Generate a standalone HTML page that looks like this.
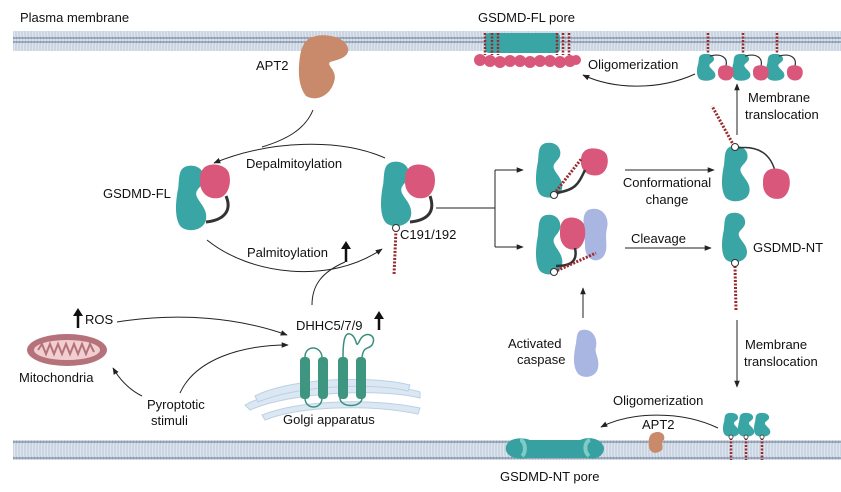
<!DOCTYPE html>
<html><head><meta charset="utf-8"><style>
html,body{margin:0;padding:0;background:#fff}
svg{display:block}
text{font-family:"Liberation Sans",Arial,sans-serif;font-size:13px;fill:#111}
</style></head><body>
<svg width="841" height="492" viewBox="0 0 841 492" xmlns="http://www.w3.org/2000/svg">
<defs>
<pattern id="mem" width="3" height="20" patternUnits="userSpaceOnUse">
<rect width="3" height="20" fill="#dde5ee"/>
<circle cx="1.5" cy="2" r="1.4" fill="#8e9db2"/>
<circle cx="1.5" cy="18" r="1.4" fill="#8e9db2"/>
<line x1="1" y1="4" x2="1" y2="16" stroke="#b3c0d0" stroke-width="0.8"/>
</pattern>
<marker id="ah" viewBox="0 0 10 10" refX="9" refY="5" markerWidth="7" markerHeight="7" orient="auto-start-reverse"><path d="M0,1 L10,5 L0,9 Z" fill="#222"/></marker>
<path id="nt" d="M10,0 C20,-2 26,6 24,14 C22,20 16,22 18,28 C20,34 28,40 26,50 C24,60 10,62 4,56 C-2,48 0,30 2,20 C3,10 2,2 10,0Z"/>
<path id="ct" d="M4,4 C10,-2 26,0 30,8 C34,18 30,32 20,34 C8,36 0,28 0,18 C0,12 0,8 4,4Z"/>
<path id="blob" d="M8,0 C18,-2 24,8 22,18 C20,24 26,30 24,40 C22,50 10,52 4,46 C-2,38 0,24 2,14 C3,6 3,1 8,0Z"/>
</defs>

<rect x="13" y="31" width="828" height="20" fill="url(#mem)"/>
<rect x="13" y="440" width="828" height="20" fill="url(#mem)"/>

<text x="20" y="22">Plasma membrane</text>
<text x="478" y="22">GSDMD-FL pore</text>

<path d="M310,38 C322,32 345,36 348,48 C350,58 336,60 330,62 C326,66 338,70 334,82 C330,96 316,102 306,96 C298,86 298,70 300,56 C302,46 304,42 310,38Z" fill="#c98a6c"/>
<text x="256" y="70">APT2</text>
<path d="M313,110 C305,130 285,140 262,147" fill="none" stroke="#222" stroke-width="1"/>

<!-- FL pore -->
<rect x="485" y="33" width="75" height="20" rx="4" fill="#3aa5a5"/>
<g stroke="#9a2a2e" stroke-width="2.5" stroke-dasharray="2,1.5">
<line x1="485" y1="33" x2="485" y2="55"/><line x1="492" y1="33" x2="492" y2="55"/><line x1="498" y1="33" x2="498" y2="55"/>
<line x1="557" y1="33" x2="557" y2="55"/><line x1="563" y1="33" x2="563" y2="55"/><line x1="569" y1="33" x2="569" y2="55"/>
</g>
<g fill="#d9577a">
<circle cx="480" cy="60" r="6"/><circle cx="490" cy="61" r="6"/><circle cx="500" cy="62" r="6"/><circle cx="510" cy="61" r="6"/><circle cx="520" cy="61" r="6"/><circle cx="530" cy="62" r="6"/><circle cx="540" cy="61" r="6"/><circle cx="550" cy="61" r="6"/><circle cx="560" cy="62" r="6"/><circle cx="570" cy="61" r="6"/><circle cx="576" cy="60" r="5"/>
</g>

<g stroke="#9a2a2e" stroke-width="2.5" stroke-dasharray="2,1.5">
<line x1="708" y1="33" x2="708" y2="56"/><line x1="743" y1="33" x2="743" y2="56"/><line x1="777" y1="33" x2="777" y2="56"/>
</g>
<g fill="#3aa5a5">
<use href="#nt" transform="translate(697,54) scale(0.7,0.45)"/>
<use href="#nt" transform="translate(732,54) scale(0.7,0.45)"/>
<use href="#nt" transform="translate(766,54) scale(0.7,0.45)"/>
</g>
<g fill="none" stroke="#333" stroke-width="1.2">
<path d="M710,56 C722,53 728,58 726,66"/><path d="M745,56 C757,53 763,58 761,66"/><path d="M779,56 C791,53 797,58 795,66"/>
</g>
<g fill="#d9577a">
<use href="#ct" transform="translate(718,65) scale(0.5,0.45)"/>
<use href="#ct" transform="translate(753,65) scale(0.5,0.45)"/>
<use href="#ct" transform="translate(787,65) scale(0.5,0.45)"/>
</g>
<text x="588" y="69">Oligomerization</text>
<path d="M695,74 C660,90 615,90 583,75" fill="none" stroke="#222" stroke-width="1" marker-end="url(#ah)"/>
<line x1="737" y1="135" x2="737" y2="84" stroke="#222" stroke-width="1" marker-end="url(#ah)"/>
<text x="748" y="102">Membrane</text>
<text x="745" y="119">translocation</text>

<text x="103" y="198">GSDMD-FL</text>
<use href="#nt" fill="#3aa5a5" transform="translate(176,166) scale(1.15,1.08)"/>
<use href="#ct" fill="#d9577a" transform="translate(200,164) scale(0.95,1)"/>
<path d="M226,196 C232,210 225,220 206,222" fill="none" stroke="#333" stroke-width="3"/>

<path d="M385,158 C340,138 270,140 214,163" fill="none" stroke="#222" stroke-width="1" marker-end="url(#ah)"/>
<text x="246" y="168">Depalmitoylation</text>
<path d="M207,240 C250,275 330,285 382,249" fill="none" stroke="#222" stroke-width="1" marker-end="url(#ah)"/>
<text x="247" y="257">Palmitoylation</text>
<line x1="346" y1="262" x2="346" y2="246" stroke="#111" stroke-width="2.5"/><path d="M341,249 L346,241 L351,249Z" fill="#111"/>
<path d="M312,305 C312,285 322,272 345,262" fill="none" stroke="#222" stroke-width="1"/>

<use href="#nt" fill="#3aa5a5" transform="translate(381,162) scale(1.15,1.08)"/>
<use href="#ct" fill="#d9577a" transform="translate(405,164) scale(0.95,1)"/>
<path d="M430,196 C435,210 430,220 410,222" fill="none" stroke="#333" stroke-width="3"/>
<line x1="396" y1="230" x2="394" y2="275" stroke="#9a2a2e" stroke-width="3" stroke-dasharray="2,1.5"/>
<circle cx="396" cy="228" r="3.5" fill="#fff" stroke="#333" stroke-width="1"/>
<text x="400" y="239">C191/192</text>

<path d="M436,208 H495 M495,170 V247" fill="none" stroke="#222" stroke-width="1"/>
<line x1="495" y1="170" x2="523" y2="170" stroke="#222" stroke-width="1" marker-end="url(#ah)"/>
<line x1="495" y1="247" x2="523" y2="247" stroke="#222" stroke-width="1" marker-end="url(#ah)"/>

<use href="#nt" fill="#3aa5a5" transform="translate(536,143) scale(1,0.92)"/>
<use href="#ct" fill="#d9577a" transform="translate(581,148) scale(0.85,0.8)"/>
<path d="M585,170 C578,185 575,190 556,193" fill="none" stroke="#333" stroke-width="2.5"/>
<line x1="554" y1="194" x2="582" y2="158" stroke="#9a2a2e" stroke-width="3" stroke-dasharray="2,1.5"/>
<circle cx="554" cy="195" r="3.5" fill="#fff" stroke="#333"/>

<use href="#nt" fill="#3aa5a5" transform="translate(536,215) scale(1,1)"/>
<path d="M588,210 C600,205 610,215 607,228 C604,240 610,250 602,258 C594,264 585,258 585,246 C585,232 580,215 588,210Z" fill="#a9b6e2"/>
<use href="#ct" fill="#d9577a" transform="translate(560,217) scale(0.8,0.95)"/>
<path d="M575,248 C578,262 570,266 556,266" fill="none" stroke="#333" stroke-width="2.5"/>
<line x1="554" y1="272" x2="596" y2="253" stroke="#9a2a2e" stroke-width="3" stroke-dasharray="2,1.5"/>
<circle cx="554" cy="272" r="3.5" fill="#fff" stroke="#333"/>

<line x1="583" y1="318" x2="583" y2="288" stroke="#222" stroke-width="1" marker-end="url(#ah)"/>
<use href="#blob" fill="#a9b6e2" transform="translate(574,330) scale(1,0.95)"/>
<text x="508" y="348">Activated</text>
<text x="517" y="364">caspase</text>

<line x1="625" y1="170" x2="714" y2="170" stroke="#222" stroke-width="1" marker-end="url(#ah)"/>
<text x="667" y="187" text-anchor="middle">Conformational</text>
<text x="667" y="204" text-anchor="middle">change</text>
<line x1="625" y1="248" x2="711" y2="248" stroke="#222" stroke-width="1" marker-end="url(#ah)"/>
<text x="631" y="243">Cleavage</text>

<line x1="734" y1="146" x2="712" y2="106" stroke="#9a2a2e" stroke-width="3" stroke-dasharray="2,1.5"/>
<use href="#nt" fill="#3aa5a5" transform="translate(722,146) scale(1.05,0.93)"/>
<path d="M737,148 C760,145 772,155 776,175" fill="none" stroke="#333" stroke-width="1.5"/>
<use href="#ct" fill="#d9577a" transform="translate(763,168) scale(0.85,0.9)"/>
<circle cx="735" cy="147" r="3.5" fill="#fff" stroke="#333"/>

<use href="#nt" fill="#3aa5a5" transform="translate(722,213) scale(0.95,0.83)"/>
<line x1="735" y1="266" x2="736" y2="310" stroke="#9a2a2e" stroke-width="3" stroke-dasharray="2,1.5"/>
<circle cx="735" cy="263" r="3.5" fill="#fff" stroke="#333"/>
<text x="753" y="252">GSDMD-NT</text>

<line x1="737" y1="320" x2="737" y2="387" stroke="#222" stroke-width="1" marker-end="url(#ah)"/>
<text x="745" y="349">Membrane</text>
<text x="744" y="366">translocation</text>

<g stroke="#9a2a2e" stroke-width="2.5" stroke-dasharray="2,1.5">
<line x1="731" y1="438" x2="731" y2="460"/><line x1="746" y1="438" x2="746" y2="460"/><line x1="762" y1="438" x2="762" y2="460"/>
</g>
<g fill="#3aa5a5">
<use href="#nt" transform="translate(723,413) scale(0.62,0.4)"/>
<use href="#nt" transform="translate(738,413) scale(0.62,0.4)"/>
<use href="#nt" transform="translate(754,413) scale(0.62,0.4)"/>
</g>
<g fill="#fff" stroke="#333" stroke-width="0.8"><circle cx="731" cy="437" r="2"/><circle cx="746" cy="437" r="2"/><circle cx="762" cy="437" r="2"/></g>
<text x="613" y="405">Oligomerization</text>
<path d="M718,428 C680,410 630,412 601,427" fill="none" stroke="#222" stroke-width="1" marker-end="url(#ah)"/>
<text x="642" y="429">APT2</text>
<path d="M653,433 C660,430 666,434 664,440 C660,442 664,446 662,450 C656,455 650,453 649,447 C648,440 649,435 653,433Z" fill="#c98a6c"/>

<path d="M506,446 C510,436 525,438 530,440 L580,440 C588,436 602,438 604,448 C604,456 596,460 588,458 L528,458 C515,460 504,456 506,446Z" fill="#37a0a0"/>
<path d="M520,440 C525,440 527,452 522,456" stroke="#7fcbc5" stroke-width="4" fill="none"/>
<path d="M590,440 C584,442 584,452 589,456" stroke="#7fcbc5" stroke-width="4" fill="none"/>
<text x="500" y="481">GSDMD-NT pore</text>

<ellipse cx="67" cy="350" rx="40" ry="16" fill="#b5727a"/>
<ellipse cx="67" cy="350" rx="33" ry="10" fill="#f1cfd0"/>
<path d="M38,350 l4,-6 4,10 4,-10 4,10 4,-10 4,10 4,-10 4,10 4,-10 4,10 4,-10 4,10 4,-10 4,8" fill="none" stroke="#b5727a" stroke-width="2"/>
<text x="19" y="382">Mitochondria</text>
<line x1="78" y1="328" x2="78" y2="313" stroke="#111" stroke-width="2.5"/><path d="M73,316 L78,308 L83,316Z" fill="#111"/>
<text x="85" y="324">ROS</text>
<path d="M117,322 C180,312 240,318 287,335" fill="none" stroke="#222" stroke-width="1" marker-end="url(#ah)"/>
<text x="147" y="409">Pyroptotic</text>
<text x="151" y="425">stimuli</text>
<path d="M142,396 C130,390 120,380 113,368" fill="none" stroke="#222" stroke-width="1" marker-end="url(#ah)"/>
<path d="M180,393 C195,360 240,345 288,345" fill="none" stroke="#222" stroke-width="1" marker-end="url(#ah)"/>

<g fill="#dbe8f3" stroke="#bcd0e4" stroke-width="1">
<path d="M245,405 C280,385 380,380 420,392 L420,398 C380,388 290,392 250,410Z"/>
<path d="M255,396 C290,378 370,375 410,385 L408,391 C370,382 295,386 258,402Z"/>
<path d="M262,415 C300,400 370,398 420,408 L418,414 C370,404 300,406 265,420Z"/>
</g>
<g fill="none" stroke="#3a8f7c" stroke-width="1.5">
<path d="M305,357 C305,345 321,345 322,357"/>
<path d="M343,357 C343,340 345,330 352,335 C358,340 355,350 360,340 C365,330 378,335 372,345 C368,350 364,345 362,357"/>
<path d="M305,398 C305,410 322,410 322,398"/>
<path d="M340,398 C340,408 362,408 362,398"/>
</g>
<g fill="#3e9680">
<rect x="300" y="357" width="10" height="42" rx="4"/>
<rect x="318" y="357" width="10" height="42" rx="4"/>
<rect x="338" y="357" width="10" height="42" rx="4"/>
<rect x="356" y="357" width="10" height="42" rx="4"/>
</g>
<text x="283" y="424">Golgi apparatus</text>
<text x="296" y="330">DHHC5/7/9</text>
<line x1="379" y1="330" x2="379" y2="316" stroke="#111" stroke-width="2.5"/><path d="M374,319 L379,311 L384,319Z" fill="#111"/>
</svg>
</body></html>
